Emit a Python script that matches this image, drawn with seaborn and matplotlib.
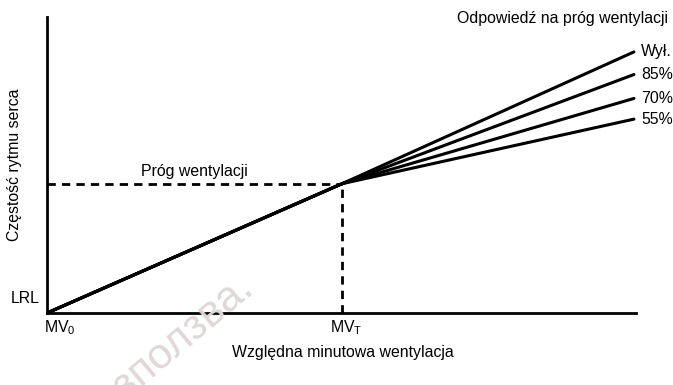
import matplotlib
matplotlib.use("Agg")
import matplotlib.pyplot as plt
import seaborn as sns
import pandas as pd

# Relative minute ventilation (MV0 = 0, ventilation threshold MVT = 1)
mv_start = 0.0
mv_threshold = 1.0
mv_end = 1.99

# Heart rate relative to LRL (LRL = 0, rate at threshold = 1)
hr_lrl = 0.0
hr_threshold = 1.0

# Response above threshold: rate reached at the end of the ventilation range
response_labels = ["Wył.", "85%", "70%", "55%"]
response_end_rate = [2.02, 1.845, 1.66, 1.50]

sns.set_theme(style="white")
plt.rcParams["font.family"] = ["Liberation Sans", "DejaVu Sans"]
plt.rcParams["text.color"] = "black"
plt.rcParams["mathtext.fontset"] = "custom"
plt.rcParams["mathtext.rm"] = "Liberation Sans"
plt.rcParams["mathtext.it"] = "Liberation Sans:italic"

rows = []
for lab, end in zip(response_labels, response_end_rate):
    rows.append({"mv": mv_start, "hr": hr_lrl, "resp": lab})
    rows.append({"mv": mv_threshold, "hr": hr_threshold, "resp": lab})
    rows.append({"mv": mv_end, "hr": end, "resp": lab})
df = pd.DataFrame(rows)

fig = plt.figure(figsize=(6.73, 3.85), dpi=100)
ax = fig.add_axes([47 / 673, 72 / 385, 589 / 673, 296 / 385])

sns.lineplot(data=df, x="mv", y="hr", hue="resp", units="resp", estimator=None,
             palette=["black"] * len(response_labels), linewidth=2.2,
             legend=False, ax=ax, sort=False)

# Threshold guides
ax.plot([mv_start, mv_threshold], [hr_threshold, hr_threshold], color="black",
        linewidth=2.0, dashes=(3, 2.2))
ax.plot([mv_threshold, mv_threshold], [hr_lrl, hr_threshold], color="black",
        linewidth=2.0, dashes=(3, 2.2))

ax.set_xlim(0, 1.997)
ax.set_ylim(0, 2.29)
ax.set_xticks([])
ax.set_yticks([])
ax.set_xlabel("")
ax.set_ylabel("")
for side in ["top", "right"]:
    ax.spines[side].set_visible(False)
for side in ["left", "bottom"]:
    ax.spines[side].set_linewidth(2.0)
    ax.spines[side].set_color("black")

fs = 11.4
# End-of-line labels
for lab, end in zip(response_labels, response_end_rate):
    ax.annotate(lab, xy=(mv_end, end), xytext=(5, 0), textcoords="offset points",
                ha="left", va="center", fontsize=fs, annotation_clip=False)

ax.text(0.5 * mv_threshold, hr_threshold + 0.04, "Próg wentylacji",
        ha="center", va="bottom", fontsize=fs)
ax.annotate("LRL", xy=(0, hr_lrl), xytext=(-5, 5), textcoords="offset points",
            ha="right", va="bottom", fontsize=fs, annotation_clip=False)
ax.annotate(r"MV$_\mathregular{0}$", xy=(mv_start, 0), xytext=(-2, -4),
            textcoords="offset points", ha="left", va="top", fontsize=fs,
            annotation_clip=False)
ax.annotate(r"MV$_\mathregular{T}$", xy=(mv_threshold, 0), xytext=(3, -4),
            textcoords="offset points", ha="center", va="top", fontsize=fs,
            annotation_clip=False)

fig.text(668 / 673, 1 - 18 / 385, "Odpowiedź na próg wentylacji",
         ha="right", va="center", fontsize=fs)
fig.text(15 / 673, 1 - 165 / 385, "Częstość rytmu serca", rotation=90,
         ha="center", va="center", fontsize=fs)
fig.text(343 / 673, 1 - 352 / 385, "Względna minutowa wentylacja",
         ha="center", va="center", fontsize=fs)

# Faint watermark
fig.text(255 / 673, 1 - 290 / 385, "използва.", rotation=40,
         rotation_mode="anchor", ha="right", va="baseline", fontsize=31,
         color="#e0d8d8", zorder=0)

fig.savefig("out.png", dpi=100)
